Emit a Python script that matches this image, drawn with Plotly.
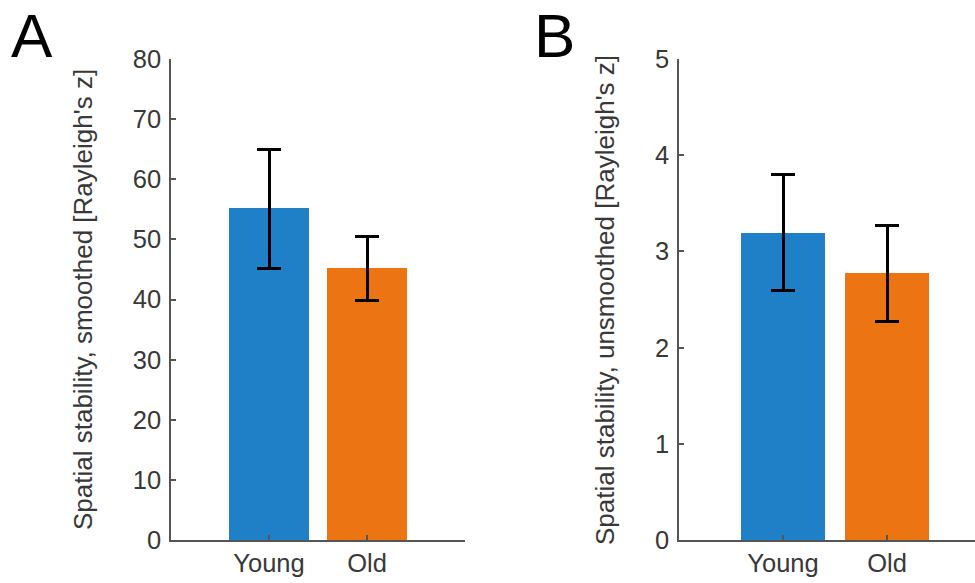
import plotly.graph_objects as go

W, H = 975, 583

categories = ["Young", "Old"]
bar_colors = ["#1f80c8", "#ec7412"]

# Panel A: smoothed
a_means = [55.3, 45.2]
a_err_plus = [9.7, 5.2]
a_err_minus = [10.2, 5.3]
a_yticks = [0, 10, 20, 30, 40, 50, 60, 70, 80]
a_title = "Spatial stability, smoothed [Rayleigh's z]"

# Panel B: unsmoothed
b_means = [3.19, 2.78]
b_err_plus = [0.61, 0.49]
b_err_minus = [0.60, 0.51]
b_yticks = [0, 1, 2, 3, 4, 5]
b_title = "Spatial stability, unsmoothed [Rayleigh's z]"

xpos = [1, 2]

FONT = "Liberation Sans, Arial, Helvetica, sans-serif"
AX = "#555555"
TXT = "#383838"

fig = go.Figure()
for means, ep, em, xa, ya in [
    (a_means, a_err_plus, a_err_minus, "x", "y"),
    (b_means, b_err_plus, b_err_minus, "x2", "y2"),
]:
    fig.add_trace(go.Bar(
        x=xpos, y=means, width=0.81,
        marker=dict(color=bar_colors, line=dict(width=0)),
        error_y=dict(type="data", symmetric=False, array=ep, arrayminus=em,
                     color="black", thickness=3, width=12),
        xaxis=xa, yaxis=ya, showlegend=False,
    ))

ydom = [(H - 540) / H, (H - 59) / H]

def xaxis_cfg(dom, rng):
    return dict(domain=dom, range=rng, tickvals=xpos, ticktext=categories,
                showline=True, linecolor=AX, linewidth=1.5, ticks="inside",
                ticklen=5, tickcolor=AX, tickwidth=1.5, showgrid=False,
                zeroline=False, tickfont=dict(family=FONT, size=25.5, color=TXT),
                ticklabelstandoff=0, automargin=False, fixedrange=True)

def yaxis_cfg(rng, ticks, anchor):
    return dict(domain=ydom, range=rng, tickvals=ticks, anchor=anchor,
                showline=True, linecolor=AX, linewidth=1.5, ticks="inside",
                ticklen=5, tickcolor=AX, tickwidth=1.5, showgrid=False,
                zeroline=False, tickfont=dict(family=FONT, size=25.5, color=TXT),
                ticklabelstandoff=3, automargin=False, fixedrange=True)

fig.update_layout(
    width=W, height=H,
    margin=dict(l=0, r=0, t=0, b=0, autoexpand=False),
    paper_bgcolor="white", plot_bgcolor="white",
    bargap=0,
    xaxis=dict(xaxis_cfg([171 / W, 465 / W], [0, 3]), anchor="y"),
    yaxis=yaxis_cfg([0, 80], a_yticks, "x"),
    xaxis2=dict(xaxis_cfg([679 / W, 1.0], [0, (975 - 679) / 104.0]), anchor="y2"),
    yaxis2=yaxis_cfg([0, 5], b_yticks, "x2"),
    annotations=[
        dict(text=a_title, x=83 / W, y=(H - 300) / H, xref="paper", yref="paper",
             textangle=-90, showarrow=False, xanchor="center", yanchor="middle",
             font=dict(family=FONT, size=26, color=TXT)),
        dict(text=b_title, x=605 / W, y=(H - 300) / H, xref="paper", yref="paper",
             textangle=-90, showarrow=False, xanchor="center", yanchor="middle",
             font=dict(family=FONT, size=26, color=TXT)),
        dict(text="A", x=32 / W, y=(H - 36) / H, xref="paper", yref="paper",
             showarrow=False, xanchor="center", yanchor="middle",
             font=dict(family=FONT, size=62, color="black")),
        dict(text="B", x=554 / W, y=(H - 36) / H, xref="paper", yref="paper",
             showarrow=False, xanchor="center", yanchor="middle",
             font=dict(family=FONT, size=62, color="black")),
    ],
)

fig.write_html("out.html")
